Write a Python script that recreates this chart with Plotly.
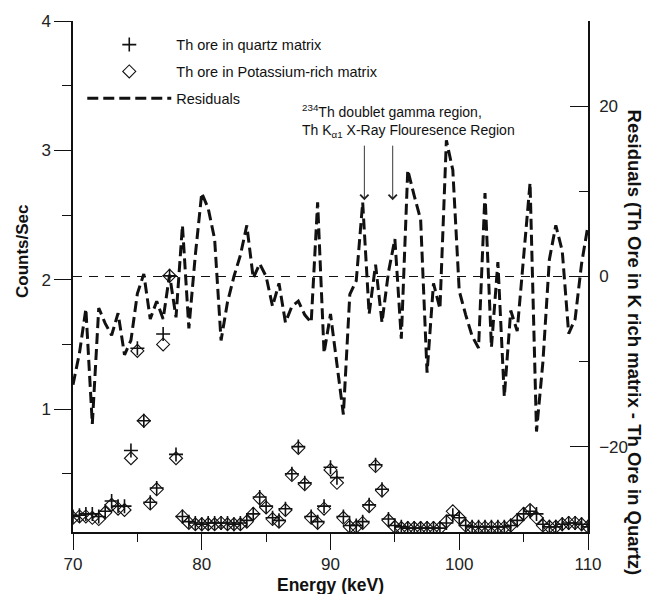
import plotly.graph_objects as go

# ---------------- data ----------------
energy = [70.0, 70.5, 71.0, 71.5, 72.0, 72.5, 73.0, 73.5, 74.0, 74.5,
          75.0, 75.5, 76.0, 76.5, 77.0, 77.5, 78.0, 78.5, 79.0, 79.5,
          80.0, 80.5, 81.0, 81.5, 82.0, 82.5, 83.0, 83.5, 84.0, 84.5,
          85.0, 85.5, 86.0, 86.5, 87.0, 87.5, 88.0, 88.5, 89.0, 89.5,
          90.0, 90.5, 91.0, 91.5, 92.0, 92.5, 93.0, 93.5, 94.0, 94.5,
          95.0, 95.5, 96.0, 96.5, 97.0, 97.5, 98.0, 98.5, 99.0, 99.5,
          100.0, 100.5, 101.0, 101.5, 102.0, 102.5, 103.0, 103.5, 104.0, 104.5,
          105.0, 105.5, 106.0, 106.5, 107.0, 107.5, 108.0, 108.5, 109.0, 109.5,
          110.0]

quartz = [0.17, 0.18, 0.19, 0.19, 0.17, 0.21, 0.29, 0.25, 0.25, 0.68,
          1.47, 0.91, 0.28, 0.39, 1.58, 2.03, 0.65, 0.17, 0.13, 0.12,
          0.11, 0.12, 0.12, 0.12, 0.12, 0.11, 0.12, 0.14, 0.19, 0.32,
          0.25, 0.16, 0.14, 0.23, 0.50, 0.71, 0.43, 0.17, 0.13, 0.25,
          0.55, 0.47, 0.17, 0.10, 0.10, 0.13, 0.26, 0.57, 0.38, 0.15,
          0.10, 0.09, 0.08, 0.08, 0.08, 0.08, 0.08, 0.08, 0.12, 0.18,
          0.16, 0.10, 0.09, 0.09, 0.09, 0.09, 0.09, 0.09, 0.10, 0.14,
          0.19, 0.21, 0.19, 0.11, 0.09, 0.09, 0.11, 0.12, 0.12, 0.11,
          0.09]

k_rich = [0.16, 0.17, 0.17, 0.16, 0.15, 0.20, 0.26, 0.23, 0.22, 0.62,
          1.45, 0.91, 0.27, 0.38, 1.50, 2.03, 0.62, 0.17, 0.12, 0.11,
          0.11, 0.11, 0.11, 0.12, 0.11, 0.11, 0.11, 0.13, 0.19, 0.31,
          0.24, 0.15, 0.13, 0.22, 0.49, 0.70, 0.42, 0.16, 0.12, 0.23,
          0.53, 0.43, 0.16, 0.09, 0.09, 0.12, 0.25, 0.56, 0.37, 0.14,
          0.09, 0.08, 0.08, 0.08, 0.08, 0.08, 0.08, 0.08, 0.13, 0.21,
          0.16, 0.10, 0.085, 0.085, 0.085, 0.085, 0.085, 0.085, 0.10, 0.14,
          0.19, 0.22, 0.16, 0.10, 0.09, 0.09, 0.11, 0.12, 0.12, 0.11,
          0.09]

res_energy = [70.0, 70.5, 71.0, 71.5, 72.0, 72.5, 73.0, 73.5, 74.0, 74.5,
              75.0, 75.5, 76.0, 76.5, 77.0, 77.5, 78.0, 78.5, 79.0, 79.5,
              80.0, 80.5, 81.0, 81.5, 82.0, 82.5, 83.0, 83.5, 84.0, 84.5,
              85.0, 85.5, 86.0, 86.5, 87.0, 87.5, 88.0, 88.5, 89.0, 89.5,
              90.0, 90.5, 91.0, 91.5, 92.0, 92.5, 93.0, 93.5, 94.0, 94.5,
              95.0, 95.5, 96.0, 96.5, 97.0, 97.5, 98.0, 98.5, 99.0, 99.5,
              100.0, 100.5, 101.0, 101.5, 102.0, 102.5, 103.0, 103.5, 104.0, 104.5,
              105.0, 105.5, 106.0, 106.5, 107.0, 107.5, 108.0, 108.5, 109.0, 109.5,
              110.0]

residuals = [-12.7, -9.0, -3.8, -17.3, -3.7, -5.5, -6.9, -4.3, -9.2, -7.5,
             -2.0, 0.3, -5.0, -2.9, -5.0, 0.2, -4.8, 6.0, -6.1, 2.5,
             9.8, 8.0, 4.4, -7.5, -3.0, 0.0, 2.5, 6.0, -0.2, 1.5,
             0.0, -3.5, -0.8, -5.4, -3.5, -2.9, -4.5, -5.4, 8.7, -9.0,
             -4.4, -10.0, -16.2, -2.1, -0.5, 8.7, -4.4, 1.4, -5.4, 0.5,
             4.4, -7.3, 12.5, 9.5, 6.7, -11.3, -0.8, -3.8, 16.0, 12.5,
             -1.7, -4.5, -7.0, -8.4, 9.8, -8.3, 1.7, -14.1, -4.0, -6.4,
             2.0, 11.0, -18.2, -10.0, 2.0, 6.0, 3.0, -6.7, -5.0, 1.5,
             6.0]

x_ticks = [70, 80, 90, 100, 110]
y_ticks = [1, 2, 3, 4]
y2_ticks = [-20, 0, 20]
arrow_energies = [92.63, 94.83]

FONT = "Liberation Sans, Arial, sans-serif"

fig = go.Figure()

fig.add_trace(go.Scatter(
    x=res_energy, y=residuals, yaxis="y2", mode="lines", name="Residuals",
    line=dict(color="#111111", width=3, dash="11px,5px"),
    legendrank=3, legendgroup="c"))

fig.add_trace(go.Scatter(
    x=energy, y=k_rich, mode="markers", name="Th ore in Potassium-rich matrix",
    marker=dict(symbol="diamond-open", size=10, color="#111111",
                line=dict(width=1.1, color="#111111")),
    legendrank=2, legendgroup="b"))

fig.add_trace(go.Scatter(
    x=energy, y=quartz, mode="markers", name="Th ore in quartz matrix",
    marker=dict(symbol="cross-thin", size=10, color="#111111",
                line=dict(width=1.6, color="#111111")),
    legendrank=1, legendgroup="a"))

# zero line of residual axis
fig.add_shape(type="line", xref="paper", x0=0, x1=1, yref="y2", y0=0, y1=0,
              line=dict(color="#111111", width=1, dash="9px,7px"))

# arrows
for e in arrow_energies:
    fig.add_annotation(x=e, y=2.615, xref="x", yref="y", text="",
                       showarrow=True, ax=0, ay=-56, arrowhead=4,
                       arrowsize=1.8, arrowwidth=0.9, arrowcolor="#222222")

fig.add_annotation(
    x=87.6, xref="x", y=0.846, yref="paper", xanchor="left", yanchor="top",
    align="left", showarrow=False,
    text="<sup>234</sup>Th doublet gamma region,<br>Th K<sub>α1</sub> X-Ray Flouresence Region",
    font=dict(family=FONT, size=14, color="#111111"))

# axis titles
fig.add_annotation(x=-0.097, xref="paper", y=0.55, yref="paper", text="<b>Counts/Sec</b>",
                   textangle=-90, showarrow=False, xanchor="center", yanchor="middle",
                   font=dict(family=FONT, size=17, color="#111111"))
fig.add_annotation(x=0.5, xref="paper", y=-0.103, yref="paper", text="<b>Energy (keV)</b>",
                   showarrow=False, xanchor="center", yanchor="middle",
                   font=dict(family=FONT, size=17.5, color="#111111"))
fig.add_annotation(x=1.09, xref="paper", y=0.37, yref="paper",
                   text="<b>Residuals (Th Ore in K rich matrix - Th Ore in Quartz)</b>",
                   textangle=90, showarrow=False, xanchor="center", yanchor="middle",
                   font=dict(family=FONT, size=18.5, color="#111111"))

axis_common = dict(showgrid=False, zeroline=False, showline=True, linecolor="#111111",
                   linewidth=1.5, tickcolor="#111111", tickwidth=1.3,
                   tickfont=dict(family=FONT, size=17, color="#222222"))

fig.update_layout(
    width=646, height=594,
    margin=dict(l=73, r=58, t=18, b=62),
    paper_bgcolor="white", plot_bgcolor="white",
    font=dict(family=FONT, color="#111111"),
    showlegend=True,
    legend=dict(x=0.018, y=0.985, xanchor="left", yanchor="top",
                bgcolor="rgba(0,0,0,0)", font=dict(family=FONT, size=14.5, color="#111111"),
                itemwidth=84, tracegroupgap=5, traceorder="grouped"),
    xaxis=dict(range=[70, 110], tickvals=x_ticks, ticks="outside", ticklen=16,
               minor=dict(dtick=5, ticks="outside", ticklen=8, tickcolor="#111111", tickwidth=1.3),
               **axis_common),
    yaxis=dict(range=[0.05, 4], tickvals=y_ticks, ticks="outside", ticklen=17,
               minor=dict(dtick=0.5, ticks="outside", ticklen=9, tickcolor="#111111", tickwidth=1.3),
               **axis_common),
    yaxis2=dict(range=[-30, 30], overlaying="y", side="right", tickvals=y2_ticks,
                ticks="inside", ticklen=18, ticklabelstandoff=6,
                minor=dict(dtick=10, ticks="inside", ticklen=9, tickcolor="#111111", tickwidth=1.3),
                **axis_common),
)

fig.write_html("out.html", config={"displayModeBar": False},
               post_script="document.body.style.margin='0px';")
